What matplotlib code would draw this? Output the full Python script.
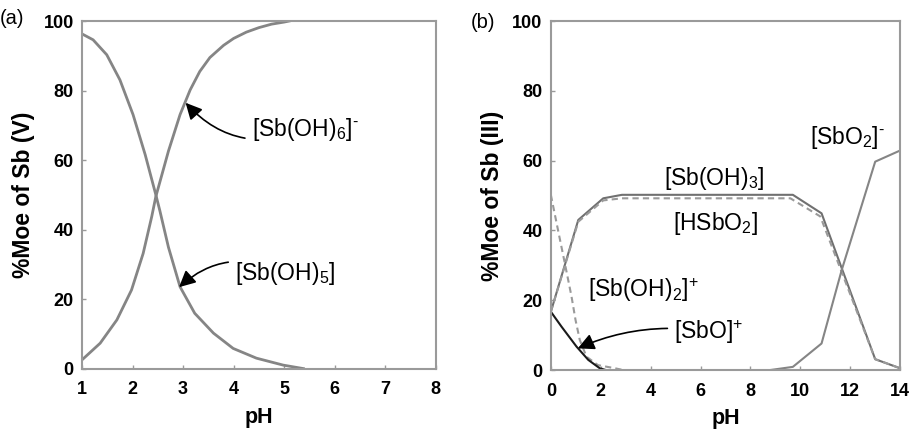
import numpy as np
import matplotlib
matplotlib.use("Agg")
import matplotlib.pyplot as plt

plt.rcParams["font.family"] = ["Liberation Sans", "DejaVu Sans"]
plt.rcParams["mathtext.fontset"] = "custom"
plt.rcParams["mathtext.rm"] = "Liberation Sans"

# ---- panel (a): Sb(V) species vs pH
ph_sb5 = [1.0, 1.22, 1.49, 1.75, 2.01, 2.25, 2.46, 2.54, 2.71, 2.94, 3.23,
          3.6, 3.99, 4.45, 4.98, 5.38]
sb_oh5 = [96.3, 94.6, 90.3, 83.1, 73.1, 61.6, 50.1, 45.5, 35.0, 23.6, 16.0,
          10.3, 5.9, 3.1, 1.1, 0.1]

ph_sb6 = [1.0, 1.36, 1.69, 1.98, 2.21, 2.38, 2.46, 2.71, 2.94, 3.14, 3.33,
          3.53, 3.8, 4.0, 4.25, 4.5, 4.75, 5.0, 5.1]
sb_oh6 = [2.6, 7.4, 14.1, 22.7, 33.2, 43.8, 49.5, 62.6, 73.1, 80.2, 85.5,
          89.5, 93.0, 95.0, 96.8, 98.1, 99.1, 99.7, 100.0]

# ---- panel (b): Sb(III) species vs pH
ph_sboh3 = [0.0, 1.1, 2.1, 2.85, 9.7, 10.85, 13.0, 14.0]
sb_oh3 = [16.7, 43.0, 49.2, 50.2, 50.2, 44.9, 3.1, 0.5]

ph_hsbo2 = [0.0, 1.1, 2.1, 2.85, 9.6, 10.8, 13.0, 14.0]
hsbo2 = [16.7, 42.5, 48.6, 49.2, 49.2, 44.0, 3.1, 0.5]

ph_sbo2 = [8.8, 9.7, 10.85, 11.66, 13.0, 14.0]
sbo2 = [0.0, 0.9, 7.6, 28.7, 59.7, 62.9]

ph_sboh2 = [0.0, 0.29, 0.56, 0.83, 0.99, 1.16, 1.43, 1.89, 2.57, 2.9]
sb_oh2 = [50.2, 40.0, 30.6, 21.0, 14.3, 8.6, 3.8, 1.4, 0.5, 0.0]

ph_sbo = [0.0, 0.43, 1.03, 1.5, 1.96, 2.2]
sbo = [16.7, 12.4, 6.7, 2.9, 0.5, 0.0]

LINE = "#858585"
DASH = "#9a9a9a"
SPINE = "#9a9a9a"
MINUS = r"$^{\text{-}}$"
PLUS = r"$^{\text{+}}$"

fig = plt.figure(figsize=(9.12, 4.29), dpi=100)
ax1 = fig.add_axes([0.0899, 0.140, 0.388, 0.811])
ax2 = fig.add_axes([0.604, 0.1375, 0.383, 0.8135])


def style(ax, xlim, xticks, ylabel):
    ax.set_xlim(*xlim)
    ax.set_ylim(0, 100)
    ax.set_xticks(xticks)
    ax.set_yticks([0, 20, 40, 60, 80, 100])
    for s in ax.spines.values():
        s.set_color(SPINE)
        s.set_linewidth(1.5)
    ax.tick_params(direction="in", length=3, width=1, color=SPINE,
                   labelsize=13)
    ax.tick_params(axis="x", pad=9)
    ax.tick_params(axis="y", pad=6)
    for lab in ax.get_xticklabels() + ax.get_yticklabels():
        lab.set_fontweight("bold")
    ax.set_xlabel("pH", fontsize=15.5, fontweight="bold", labelpad=6)
    ax.set_ylabel(ylabel, fontsize=16.5, fontweight="bold", labelpad=6)


style(ax1, (1, 8), range(1, 9), "%Moe of Sb (V)")
style(ax2, (0, 14), range(0, 15, 2), "%Moe of Sb (III)")

ax1.plot(ph_sb5, sb_oh5, color=LINE, lw=2.0)
ax1.plot(ph_sb6, sb_oh6, color=LINE, lw=2.0)

ax2.plot(ph_sboh3, sb_oh3, color="#707070", lw=1.5)
ax2.plot(ph_hsbo2, hsbo2, color=DASH, lw=1.5, ls=(0, (3, 2)))
ax2.plot(ph_sbo2, sbo2, color=LINE, lw=1.5)
ax2.plot(ph_sboh2, sb_oh2, color=DASH, lw=1.5, ls=(0, (3, 2)))
ax2.plot(ph_sbo, sbo, color="#1a1a1a", lw=1.5)

arrow = dict(arrowstyle="-|>,head_length=0.6,head_width=0.3", color="black",
             lw=1.2, shrinkA=3, shrinkB=0)

ax1.annotate("[Sb(OH)$_6$]" + MINUS, xy=(3.05, 76.5), xytext=(4.36, 68.7),
             fontsize=16.5, va="center", ha="left",
             arrowprops=dict(arrow, connectionstyle="arc3,rad=-0.35"))
ax1.annotate("[Sb(OH)$_5$]", xy=(2.92, 23.5), xytext=(4.03, 27.3),
             fontsize=16.5, va="center", ha="left",
             arrowprops=dict(arrow, connectionstyle="arc3,rad=0.35"))

ax2.text(11.9, 66.5, "[SbO$_2$]" + MINUS, fontsize=16.5, ha="center", va="center")
ax2.text(6.55, 55.0, "[Sb(OH)$_3$]", fontsize=16.5, ha="center", va="center")
ax2.text(6.6, 42.0, "[HSbO$_2$]", fontsize=16.5, ha="center", va="center")
ax2.text(3.7, 22.8, "[Sb(OH)$_2$]" + PLUS, fontsize=16.5, ha="center", va="center")
ax2.annotate("[SbO]" + PLUS, xy=(1.08, 6.2), xytext=(4.95, 11.0),
             fontsize=16.5, va="center", ha="left",
             arrowprops=dict(arrow, connectionstyle="arc3,rad=0.15"))

fig.text(0.0, 0.958, "(a)", fontsize=14.5, va="center", ha="left")
fig.text(0.516, 0.948, "(b)", fontsize=14.5, va="center", ha="left")

fig.savefig("out.png", dpi=100)
